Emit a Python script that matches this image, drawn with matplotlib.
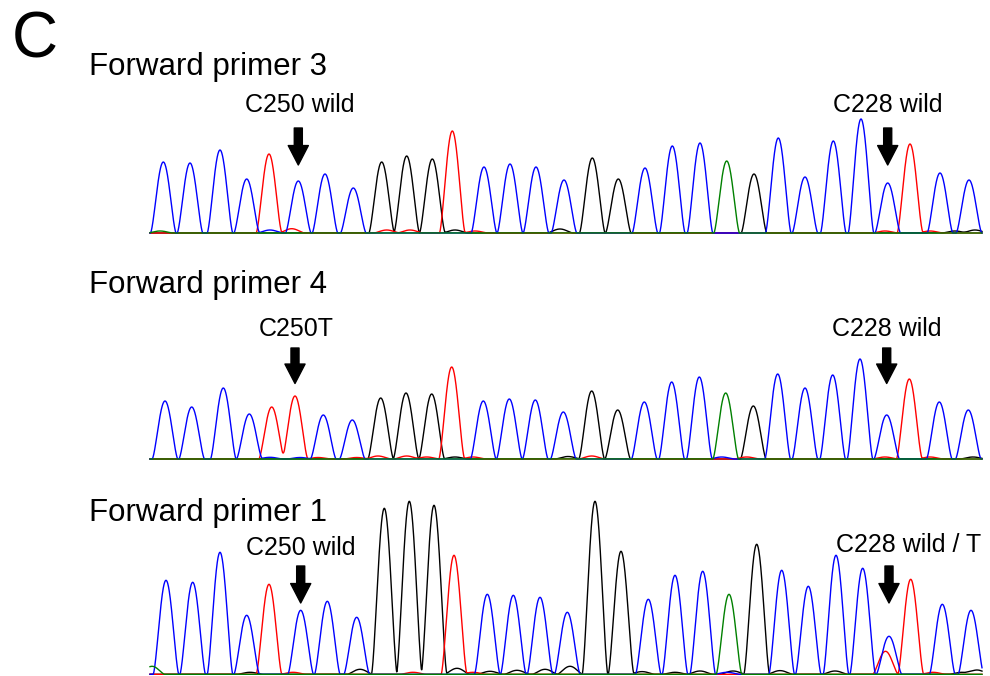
import numpy as np
import matplotlib
matplotlib.use("Agg")
import matplotlib.pyplot as plt

# ---------------- data ----------------
p1_title = "Forward primer 3"
p2_title = "Forward primer 4"
p3_title = "Forward primer 1"

p1_seq = "CCCCTCCCGGGTCCCCGGCCCAGCCCCCTCC"
p2_seq = "CCCCTTCCGGGTCCCCGGCCCAGCCCCCTCC"
p3_seq = "CCCCTCCCGGGTCCCCGGCCCAGCCCCCTCC"

p1_pos = [163.3, 190, 220, 246.7, 269, 298.3, 325, 353.3, 381.7, 406.7, 432.3, 452.3, 484, 510, 536, 564,
          592.3, 618.3, 645, 672.3, 700, 726.7, 754, 778.3, 805, 833.3, 861, 887.7, 910, 940, 969]
p1_height = [71, 70, 83, 54, 79, 52, 59, 45, 71, 77, 74, 102, 66, 69, 66, 53,
             75, 54, 65, 87, 90, 72, 59, 95, 56, 92, 114, 50, 89, 60, 53]

p2_pos = [165, 191.7, 223.3, 249.3, 271.7, 295, 323.3, 352.3, 380.7, 406, 431.7, 451.7, 483.3, 509.3, 535.3, 563.3,
          591.7, 617.7, 644.3, 671.7, 699.3, 725.7, 753.3, 777.7, 805, 832.7, 860, 886.7, 909.3, 939.3, 968.3]
p2_height = [58, 52, 71, 45, 52, 63, 44, 39, 61, 66, 65, 92, 58, 60, 59, 47,
             68, 49, 57, 77, 82, 66, 53, 85, 71, 84, 100, 44, 80, 57, 49]

p3_pos = [166, 192.7, 220, 246.7, 269, 300.7, 327.3, 356.7, 384.3, 409.3, 434, 454, 487.3, 513.3, 540, 567.3,
          595, 621, 648.3, 675, 702.7, 729, 756.7, 781.7, 808.3, 836, 862.7, 889, 910.7, 942.3, 971]
p3_height = [94, 92, 122, 59, 90, 64, 73, 57, 166, 173, 169, 119, 80, 79, 77, 62,
             173, 123, 75, 99, 103, 80, 130, 104, 88, 119, 106, 38, 95, 70, 64]

# minor (background) peaks
p1_minor_pos = [160, 270, 291.7, 386.7, 410, 455, 475, 560, 885, 930, 955, 975]
p1_minor_height = [2, 3, 4.3, 3, 3, 3, 2, 4, 2, 2, 2, 3]
p1_minor_seq = "ACTTTGTGTTGG"

p2_minor_pos = [270, 300, 318, 356.7, 378, 406.7, 426.7, 455, 473, 568, 591.7, 721.7, 746.7, 885, 930, 973]
p2_minor_height = [1.7, 1.5, 1.5, 1.5, 3, 3, 2, 2, 2, 2.5, 3, 2, 2, 2, 2, 2]
p2_minor_seq = "CCTTTTTGTGTCTTTG"

p3_minor_pos = [152, 250, 293, 360, 413, 457, 473, 490, 517, 545, 570, 642, 675, 700, 727, 733, 780, 835,
                885.5, 933, 962, 977]
p3_minor_height = [8, 2, 2, 5, 2, 6, 2, 3, 4, 5, 8, 2.7, 2, 3.3, 2, 3.3, 3.7, 3.3, 23, 2, 2, 4.3]
p3_minor_seq = "AGTGTGTGGGGGGGCGGGTTGG"

# annotations: (label, index of the peak pointed to)
p1_labels = ["C250 wild", "C228 wild"]
p1_targets = [5, 27]
p2_labels = ["C250T", "C228 wild"]
p2_targets = [5, 27]
p3_labels = ["C250 wild", "C228 wild / T"]
p3_targets = [5, 27]

base_colors = {"A": "#008000", "C": "#0000ff", "G": "#000000", "T": "#ff0000"}
draw_order = ["G", "T", "C", "A"]

# ---------------- figure ----------------
W, H = 990, 676
fig = plt.figure(figsize=(W / 100, H / 100), dpi=100)
plt.rcParams["font.family"] = ["Liberation Sans", "DejaVu Sans"]

X0, X1 = 150, 982
xs = np.arange(X0, X1 + 0.01, 0.25)
HALF = 12.8
POWER = 1.5


def trace(positions, heights, seq, base):
    y = np.zeros_like(xs)
    for p, h, b in zip(positions, heights, seq):
        if b != base:
            continue
        d = np.abs(xs - p)
        m = d < HALF
        y[m] += h * np.cos(np.pi * d[m] / (2 * HALF)) ** POWER
    return y


def panel(baseline_px, height_px, pos, hts, seq, mpos, mhts, mseq):
    pad = 2
    ax = fig.add_axes([X0 / W, (H - baseline_px - pad) / H, (X1 - X0) / W, height_px / H])
    ax.set_xlim(X0, X1)
    ax.set_ylim(-pad, height_px - pad)
    ax.axis("off")
    for b in draw_order:
        y = trace(pos, hts, seq, b) + trace(mpos, mhts, mseq, b)
        ax.plot(xs, y, color=base_colors[b], lw=1.0, clip_on=False, solid_joinstyle="round")
    return ax


def ftext(x, y, s, size, ha="left"):
    fig.text(x / W, 1 - y / H, s, fontsize=size, ha=ha, va="baseline", color="black")


def arrow(ax, xdata, y_top, y_tip):
    ax.annotate("", xy=(xdata, H - y_tip), xytext=(xdata, H - y_top),
                xycoords=("data", "figure pixels"), textcoords=("data", "figure pixels"),
                arrowprops=dict(width=5.8, headwidth=14.5, headlength=14.0, color="black", shrink=0),
                annotation_clip=False)


ftext(12, 57, "C", 46)

# Panel 1
ax1 = panel(233, 125, p1_pos, p1_height, p1_seq, p1_minor_pos, p1_minor_height, p1_minor_seq)
ftext(89, 75, p1_title, 22.5)
ftext(299.5, 111.5, p1_labels[0], 18, ha="center")
ftext(887.5, 111.5, p1_labels[1], 18, ha="center")
for t in p1_targets:
    arrow(ax1, p1_pos[t], 128, 165)

# Panel 2
ax2 = panel(459, 110, p2_pos, p2_height, p2_seq, p2_minor_pos, p2_minor_height, p2_minor_seq)
ftext(89, 293, p2_title, 22.5)
ftext(296.3, 336, p2_labels[0], 18, ha="center")
ftext(887, 336, p2_labels[1], 18, ha="center")
for t in p2_targets:
    arrow(ax2, p2_pos[t], 348, 383.5)

# Panel 3
ax3 = panel(674.3, 180, p3_pos, p3_height, p3_seq, p3_minor_pos, p3_minor_height, p3_minor_seq)
ftext(89, 521.5, p3_title, 22.5)
ftext(301, 555, p3_labels[0], 18, ha="center")
ftext(909, 552.3, p3_labels[1], 18, ha="center")
for t in p3_targets:
    arrow(ax3, p3_pos[t], 566, 603)

fig.savefig("out.png", dpi=100)
